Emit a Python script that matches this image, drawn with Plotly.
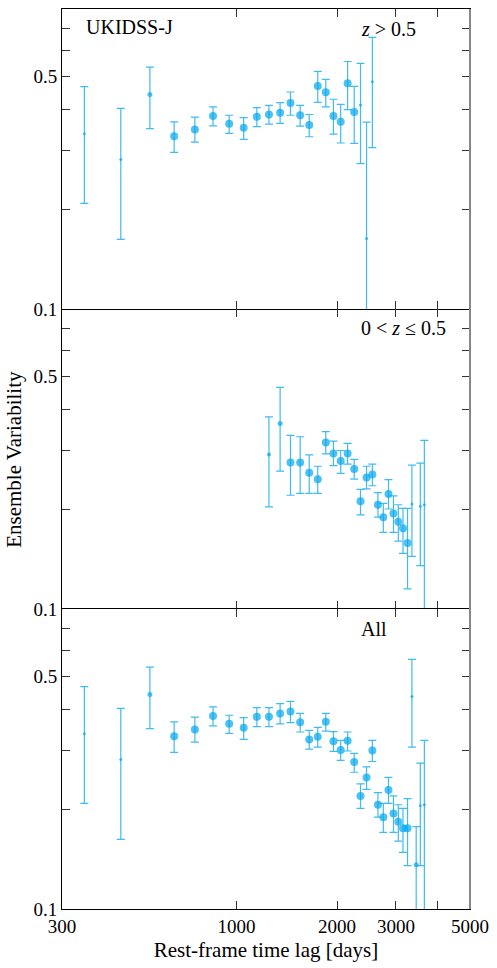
import numpy as np
import plotly.graph_objects as go
from plotly.subplots import make_subplots

# ------------------------------------------------------------------
# Data (rest-frame lag in days, ensemble variability)
# ------------------------------------------------------------------

# z > 0.5
hiz_lag = [350, 450, 550, 650, 750, 850, 950, 1050, 1150, 1250, 1350, 1450,
           1550, 1650, 1750, 1850, 1950, 2050, 2150, 2250, 2350, 2450, 2550]
hiz_var = [0.337, 0.282, 0.442, 0.331, 0.347, 0.381, 0.361, 0.351, 0.379, 0.385,
           0.390, 0.417, 0.383, 0.358, 0.469, 0.449, 0.381, 0.366, 0.478, 0.392,
           0.411, 0.163, 0.483]
hiz_up = [0.467, 0.402, 0.535, 0.366, 0.378, 0.406, 0.383, 0.377, 0.404, 0.410,
          0.418, 0.450, 0.410, 0.385, 0.519, 0.491, 0.428, 0.413, 0.556, 0.468,
          0.549, 0.365, 0.657]
hiz_lo = [0.208, 0.162, 0.349, 0.296, 0.318, 0.356, 0.338, 0.324, 0.354, 0.360,
          0.362, 0.383, 0.355, 0.330, 0.419, 0.406, 0.336, 0.316, 0.398, 0.315,
          0.274, 0.05, 0.306]
hiz_size = [3, 3, 5, 8, 8, 8, 8, 8, 8, 8, 8, 8, 8, 8, 8, 8, 8, 8, 8, 8, 3, 3, 3]

# 0 < z <= 0.5
loz_lag = [1250, 1350, 1450, 1550, 1650, 1750, 1850, 1950, 2050, 2150, 2250, 2350,
           2450, 2550, 2650, 2750, 2850, 2950, 3050, 3150, 3250, 3350, 3550, 3650]
loz_var = [0.292, 0.362, 0.276, 0.276, 0.257, 0.246, 0.317, 0.294, 0.279, 0.294,
           0.264, 0.211, 0.249, 0.254, 0.206, 0.189, 0.222, 0.194, 0.183, 0.175,
           0.158, 0.207, 0.204, 0.206]
loz_up = [0.379, 0.465, 0.333, 0.330, 0.291, 0.269, 0.342, 0.320, 0.300, 0.315,
          0.282, 0.229, 0.269, 0.273, 0.224, 0.208, 0.245, 0.219, 0.206, 0.201,
          0.201, 0.271, 0.275, 0.322]
loz_lo = [0.203, 0.260, 0.220, 0.223, 0.223, 0.223, 0.293, 0.270, 0.256, 0.273,
          0.246, 0.192, 0.230, 0.235, 0.189, 0.170, 0.200, 0.170, 0.160, 0.147,
          0.115, 0.144, 0.135, 0.05]
loz_size = [4, 5, 8, 8, 8, 8, 8, 8, 8, 8, 8, 8, 8, 8, 8, 8, 8, 8, 8, 8, 8, 3, 3, 3]

# All
all_lag = [350, 450, 550, 650, 750, 850, 950, 1050, 1150, 1250, 1350, 1450,
           1550, 1650, 1750, 1850, 1950, 2050, 2150, 2250, 2350, 2450, 2550, 2650,
           2750, 2850, 2950, 3050, 3150, 3250, 3350, 3450, 3550, 3650]
all_var = [0.337, 0.282, 0.442, 0.331, 0.347, 0.381, 0.361, 0.351, 0.379, 0.379,
           0.388, 0.393, 0.365, 0.324, 0.330, 0.366, 0.320, 0.301, 0.321, 0.277,
           0.219, 0.249, 0.300, 0.206, 0.189, 0.228, 0.194, 0.183, 0.175, 0.175,
           0.436, 0.136, 0.205, 0.206]
all_up = [0.467, 0.402, 0.535, 0.366, 0.378, 0.406, 0.383, 0.377, 0.404, 0.404,
          0.415, 0.422, 0.388, 0.345, 0.352, 0.388, 0.342, 0.322, 0.341, 0.294,
          0.238, 0.268, 0.322, 0.224, 0.208, 0.249, 0.219, 0.206, 0.201, 0.215,
          0.564, 0.177, 0.275, 0.322]
all_lo = [0.208, 0.162, 0.349, 0.296, 0.318, 0.356, 0.338, 0.324, 0.354, 0.354,
          0.361, 0.364, 0.341, 0.303, 0.307, 0.343, 0.298, 0.280, 0.299, 0.258,
          0.201, 0.229, 0.278, 0.189, 0.170, 0.208, 0.170, 0.160, 0.148, 0.135,
          0.307, 0.05, 0.135, 0.05]
all_size = [3, 3, 5, 8, 8, 8, 8, 8, 8, 8, 8, 8, 8, 8, 8, 8, 8, 8, 8, 8, 8, 8, 8, 8,
            8, 8, 8, 8, 8, 8, 3, 5, 3, 3]

panels = [
    (hiz_lag, hiz_var, hiz_up, hiz_lo, hiz_size),
    (loz_lag, loz_var, loz_up, loz_lo, loz_size),
    (all_lag, all_var, all_up, all_lo, all_size),
]
panel_labels = ['<i>z</i> > 0.5', '0 < <i>z</i> ≤ 0.5', 'All']

x_ticks = [300, 1000, 2000, 3000, 4000, 5000]
x_ticktext = ['300', '1000', '2000', '3000', '', '5000']
y_ticks = [0.1, 0.2, 0.3, 0.4, 0.5, 0.6, 0.7]
y_ticktext = ['0.1', '', '', '', '0.5', '', '']

# ------------------------------------------------------------------
# Plotting
# ------------------------------------------------------------------

FONT = 'Liberation Serif'
MARKER_COL = '#00a6ec'
ERR_COL = '#40bbf0'

fig = make_subplots(rows=3, cols=1, shared_xaxes=True, vertical_spacing=0)

for i, (lag, var, up, lo, size) in enumerate(panels):
    var = np.array(var)
    fig.add_trace(go.Scatter(
        x=lag, y=var,
        mode='markers',
        marker=dict(color=MARKER_COL, size=size, line_width=0),
        error_y=dict(type='data', symmetric=False,
                     array=np.array(up) - var, arrayminus=var - np.array(lo),
                     color=ERR_COL, thickness=1.2, width=4),
        showlegend=False,
    ), row=i + 1, col=1)

axis_common = dict(linecolor='black', linewidth=1, mirror='ticks',
                   ticks='inside', ticklen=8, tickwidth=1, tickcolor='#333',
                   showgrid=False, zeroline=False, automargin=False,
                   tickfont=dict(family=FONT, size=19, color='black'))

for r in range(1, 4):
    # middle panel draws no x lines of its own, so the shared borders stay 1px
    fig.update_xaxes(type='log', range=[np.log10(300), np.log10(5000)],
                     tickvals=x_ticks, ticktext=x_ticktext, showline=(r != 2),
                     showticklabels=(r == 3), row=r, col=1, **axis_common)
    fig.update_yaxes(type='log', range=[-1, np.log10(0.8)],
                     tickvals=y_ticks, ticktext=y_ticktext, showline=True,
                     row=r, col=1, **axis_common)

fig.update_xaxes(title_text='Rest-frame time lag [days]',
                 title_font=dict(family=FONT, size=21, color='black'),
                 title_standoff=6, row=3, col=1)

annotations = [
    dict(text='UKIDSS-J', x=0.055, y=0.980),
    dict(text=panel_labels[0], x=0.728, y=0.978),
    dict(text=panel_labels[1], x=0.728, y=0.646),
    dict(text=panel_labels[2], x=0.728, y=0.311),
]
for a in annotations:
    fig.add_annotation(xref='paper', yref='paper', xanchor='left', yanchor='middle',
                       showarrow=False, font=dict(family=FONT, size=20, color='black'), **a)

fig.add_annotation(text='Ensemble Variability', xref='paper', yref='paper',
                   x=-0.118, y=0.5, textangle=-90, showarrow=False,
                   xanchor='center', yanchor='middle',
                   font=dict(family=FONT, size=21, color='black'))

# grey right-hand spine as in the original
fig.add_shape(type='line', xref='paper', yref='paper', x0=1, x1=1, y0=0, y1=1,
              line=dict(color='#888', width=2))

fig.update_layout(
    width=497, height=968,
    margin=dict(l=62, r=27, t=9, b=59),
    paper_bgcolor='white', plot_bgcolor='white',
    font=dict(family=FONT, color='black'),
)

# drop the browser's default body margin so the figure sits at the page corner
fig.write_html('out.html', config={'displayModeBar': False},
               post_script="document.body.style.margin='0';")
